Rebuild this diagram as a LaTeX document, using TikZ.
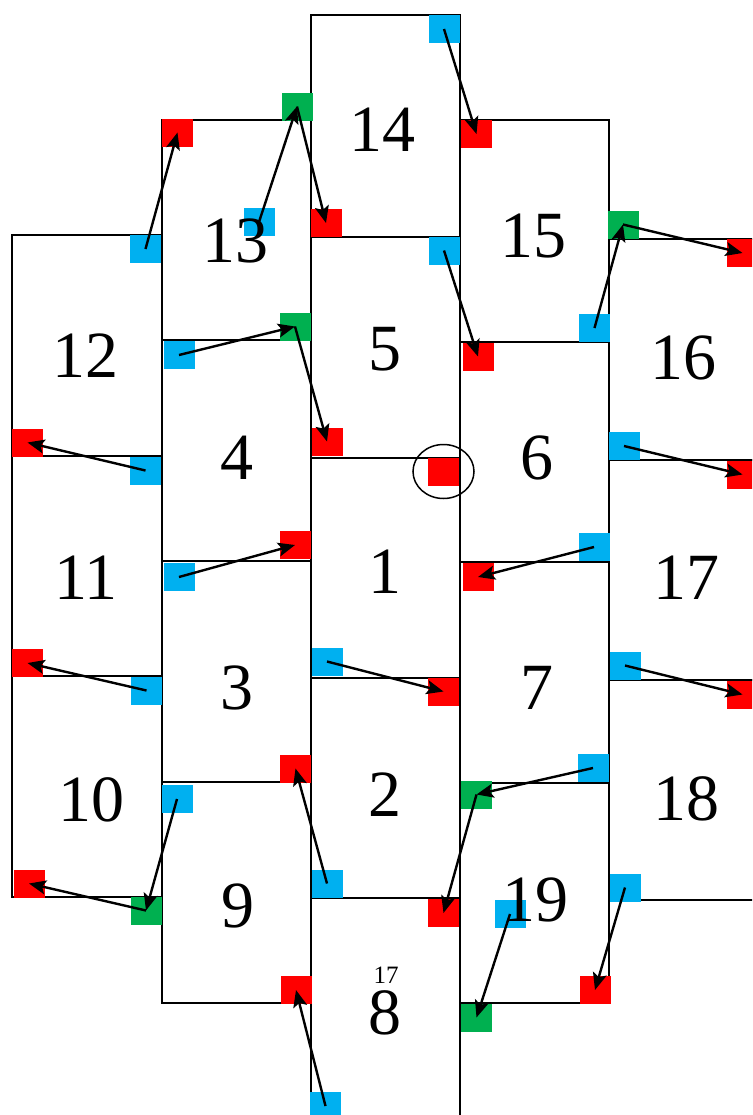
\documentclass[tikz,border=0pt]{standalone}
\usepackage{fontspec}
\setmainfont{Liberation Serif}
\usepackage{tikz}
\usetikzlibrary{arrows.meta}
\definecolor{tred}{RGB}{255,0,0}
\definecolor{tblue}{RGB}{0,176,240}
\definecolor{tgreen}{RGB}{0,176,80}
\tikzset{every node/.append style={font=\fontsize{33}{33}\selectfont, inner sep=0pt}}
\tikzset{tile/.style={fill=#1, minimum width=15.5pt, minimum height=14pt}}

\begin{document}
\begin{tikzpicture}[x=0.5pt, y=-0.5pt, line width=1.2pt, >={Stealth[length=8.5pt, width=7pt, inset=1.8pt]}]
    \useasboundingbox (0,0) rectangle (752,1115);
    \clip (0,0) rectangle (752,1115);
    % cells, column by column
    \draw (12,235) rectangle (162,456);
    \draw (12,456) rectangle (162,676);
    \draw (12,676) rectangle (162,897);
    \draw (162,120) rectangle (311,340);
    \draw (162,340) rectangle (311,561);
    \draw (162,561) rectangle (311,782);
    \draw (162,782) rectangle (311,1003);
    \draw (311,15) rectangle (460,237);
    \draw (311,237) rectangle (460,458);
    \draw (311,458) rectangle (460,678);
    \draw (311,678) rectangle (460,898);
    \draw (311,898) rectangle (460,1130);
    \draw (460,120) rectangle (609,342);
    \draw (460,342) rectangle (609,562);
    \draw (460,562) rectangle (609,783);
    \draw (460,783) rectangle (609,1003);
    \draw (609,239) rectangle (770,460);
    \draw (609,460) rectangle (770,680);
    \draw (609,680) rectangle (770,900);
    % red tiles
    \node[tile=tred] (R13) at (177.5,132.5) {};
    \node[tile=tred] (R14) at (326,223) {};
    \node[tile=tred] (R5) at (327,441.5) {};
    \node[tile=tred] (R15) at (476.5,134) {};
    \node[tile=tred] (R6) at (478,356.5) {};
    \node[tile=tred] (R16) at (742.5,253) {};
    \node[tile=tred] (R12) at (27.5,442.5) {};
    \node[tile=tred] (R4) at (295,545) {};
    \node[tile=tred] (R11) at (27.5,663) {};
    \node[tile=tred] (R1) at (443.5,471.5) {};
    \node[tile=tred] (R17) at (742.5,474.5) {};
    \node[tile=tred] (R7) at (478,577) {};
    \node[tile=tred] (R2) at (443.5,691.5) {};
    \node[tile=tred] (R18) at (742.5,694.5) {};
    \node[tile=tred] (R3) at (295.5,768.5) {};
    \node[tile=tred] (R10) at (29,883.5) {};
    \node[tile=tred] (R9) at (296,990) {};
    \node[tile=tred] (R8) at (443.5,913) {};
    \node[tile=tred] (R19) at (595,990) {};
    % blue tiles
    \node[tile=tblue] (B13) at (259,222) {};
    \node[tile=tblue] (B12) at (145.5,249) {};
    \node[tile=tblue] (B4) at (179,355) {};
    \node[tile=tblue] (B14) at (444,29) {};
    \node[tile=tblue] (B5) at (444,250.5) {};
    \node[tile=tblue] (B15) at (594.5,328) {};
    \node[tile=tblue] (B11) at (145.5,470.5) {};
    \node[tile=tblue] (B3) at (179,577) {};
    \node[tile=tblue] (B10) at (146.5,690.5) {};
    \node[tile=tblue] (B1) at (327,661.5) {};
    \node[tile=tblue] (B16) at (624,446) {};
    \node[tile=tblue] (B6) at (594,547) {};
    \node[tile=tblue] (B17) at (625,665.5) {};
    \node[tile=tblue] (B9) at (177,799) {};
    \node[tile=tblue] (B2) at (327,883.5) {};
    \node[tile=tblue] (B8) at (325.5,1106) {};
    \node[tile=tblue] (B7) at (593,768) {};
    \node[tile=tblue] (B19) at (510,914) {};
    \node[tile=tblue] (B18) at (625,887.5) {};
    % green tiles
    \node[tile=tgreen] (G1) at (297,106.5) {};
    \node[tile=tgreen] (G2) at (295,326.5) {};
    \node[tile=tgreen] (G3) at (623,224.5) {};
    \node[tile=tgreen] (G4) at (146,910.5) {};
    \node[tile=tgreen] (G5) at (476.5,794.5) {};
    \node[tile=tgreen] (G6) at (476.5,1017.5) {};
    % numbers
    \node (N14) at (382,129.5) {14};
    \node (N13) at (235.5,240.5) {13};
    \node (N15) at (533,236.5) {15};
    \node (N12) at (86,355.5) {12};
    \node (N5) at (385,349) {5};
    \node (N16) at (683.5,357.5) {16};
    \node (N4) at (237,457.5) {4};
    \node (N6) at (536.5,458) {6};
    \node (N11) at (86,578) {11};
    \node (N1) at (385,572) {1};
    \node (N17) at (686.5,577.5) {17};
    \node (N3) at (237,687.5) {3};
    \node (N7) at (536.5,687.5) {7};
    \node (N10) at (91,799.5) {10};
    \node (N2) at (385,794.5) {2};
    \node (N18) at (686,799) {18};
    \node (N9) at (237.5,905.5) {9};
    \node (N19) at (535.5,899.5) {19};
    \node (N8) at (385,1012.5) {8};
    \node[font=\fontsize{12.5}{12.5}\selectfont] (N8s) at (386,975) {17};
    % moves
    \draw[->] (B12.center) -- (R13.center);
    \draw[->] (B13.center) -- (G1.center);
    \draw[->] (G1.center) -- (R14.center);
    \draw[->] (B4.center) -- (G2.center);
    \draw[->] (G2.center) -- (R5.center);
    \draw[->] (B14.center) -- (R15.center);
    \draw[->] (B5.center) -- (R6.center);
    \draw[->] (B15.center) -- (G3.center);
    \draw[->] (G3.center) -- (R16.center);
    \draw[->] (B11.center) -- (R12.center);
    \draw[->] (B3.center) -- (R4.center);
    \draw[->] (B10.center) -- (R11.center);
    \draw[->] (B16.center) -- (R17.center);
    \draw[->] (B6.center) -- (R7.center);
    \draw[->] (B1.center) -- (R2.center);
    \draw[->] (B17.center) -- (R18.center);
    \draw[->] (B9.center) -- (G4.center);
    \draw[->] (G4.center) -- (R10.center);
    \draw[->] (B2.center) -- (R3.center);
    \draw[->] (B8.center) -- (R9.center);
    \draw[->] (B7.center) -- (G5.center);
    \draw[->] (G5.center) -- (R8.center);
    \draw[->] (B19.center) -- (G6.center);
    \draw[->] (B18.center) -- (R19.center);
    \draw[line width=0.75pt] (R1.center) ellipse [x radius=15.25pt, y radius=13.5pt];
\end{tikzpicture}
\end{document}
